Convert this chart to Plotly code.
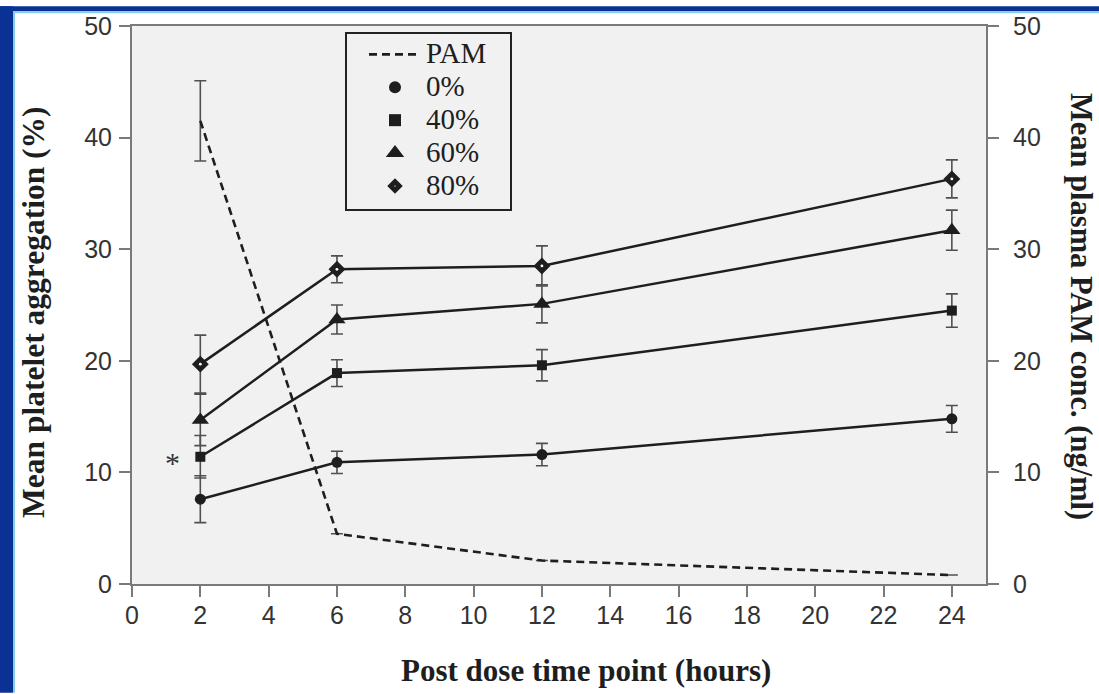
import plotly.graph_objects as go

# ---- data ----
time_h = [2, 6, 12, 24]
agg_0 = [7.6, 10.9, 11.6, 14.8]
err_0 = [2.1, 1.0, 1.0, 1.2]
agg_40 = [11.4, 18.9, 19.6, 24.5]
err_40 = [1.9, 1.2, 1.4, 1.5]
agg_60 = [14.7, 23.7, 25.1, 31.7]
err_60 = [2.3, 1.3, 1.7, 1.8]
agg_80 = [19.7, 28.2, 28.5, 36.3]
err_80 = [2.6, 1.2, 1.8, 1.7]
pam_conc = [41.5, 4.5, 2.1, 0.8]
err_pam = [3.6, 0, 0, 0]

x_ticks = list(range(0, 25, 2))
y_ticks = [0, 10, 20, 30, 40, 50]
legend_names = ["PAM", "0%", "40%", "60%", "80%"]

# ---- layout geometry ----
W, H = 1099, 694
ML, MR, MT, MB = 132, 113, 20, 110
PW, PH = W - ML - MR, H - MT - MB


def px(xp):
    return (xp - ML) / PW


def py(yp):
    return (H - MB - yp) / PH


INK = "#1e1e1e"
AXC = "#7a7a7a"
ERRC = "#505050"
SERIF = "Liberation Serif, Times New Roman, serif"
SANS = "Liberation Sans, Arial, sans-serif"


def lname(s):
    return '<span style="font-size:29px">' + s + '</span>'


fig = go.Figure()

# PAM concentration (right axis)
fig.add_trace(go.Scatter(
    x=time_h, y=pam_conc, yaxis="y2", mode="lines", name=lname(legend_names[0]),
    line=dict(color=INK, width=2.6, dash="8px,5px"),
    error_y=dict(type="data", array=err_pam, visible=True, color=ERRC,
                 thickness=1.6, width=6),
    showlegend=True,
))

series = [
    (agg_0, err_0, "circle", 11, legend_names[1]),
    (agg_40, err_40, "square", 10, legend_names[2]),
    (agg_60, err_60, "triangle-up", 15, legend_names[3]),
    (agg_80, err_80, "diamond", 13, legend_names[4]),
]
for vals, errs, sym, size, name in series:
    fig.add_trace(go.Scatter(
        x=time_h, y=vals, mode="lines+markers", name=name,
        line=dict(color=INK, width=2.5),
        marker=dict(symbol=sym, size=size, color=INK, line=dict(width=0)),
        error_y=dict(type="data", array=errs, visible=True, color=ERRC,
                     thickness=1.6, width=6),
        showlegend=False,
    ))

# white centre dot of the 80% diamonds
fig.add_trace(go.Scatter(
    x=time_h, y=agg_80, mode="markers", showlegend=False, hoverinfo="skip",
    marker=dict(symbol="circle", size=2.8, color="#ffffff", line=dict(width=0)),
))

# legend-only entries (marker symbols)
legend_markers = [
    dict(symbol="circle", size=12, color=INK, line=dict(width=0)),
    dict(symbol="square", size=12, color=INK, line=dict(width=0)),
    dict(symbol="triangle-up", size=16, color=INK, line=dict(width=0)),
    dict(symbol="diamond", size=6.5, color="#ffffff", line=dict(color=INK, width=5)),
]
for mk, name in zip(legend_markers, legend_names[1:]):
    fig.add_trace(go.Scatter(
        x=[None], y=[None], mode="markers", name=lname(name),
        marker=mk, showlegend=True,
    ))

axis_common = dict(
    showgrid=False, zeroline=False, showline=True, linecolor=AXC, linewidth=2,
    ticks="outside", ticklen=11, tickwidth=2, tickcolor=AXC,
    tickfont=dict(family=SANS, size=25, color="#333333"),
)

fig.update_layout(
    width=W, height=H,
    margin=dict(l=ML, r=MR, t=MT, b=MB),
    paper_bgcolor="#ffffff",
    plot_bgcolor="#f1f1f1",
    xaxis=dict(range=[0, 25], tickvals=x_ticks, mirror=True,
               ticklabelstandoff=-3, **axis_common),
    yaxis=dict(range=[0, 50], tickvals=y_ticks, ticklabelstandoff=2,
               **axis_common),
    yaxis2=dict(range=[0, 50], tickvals=y_ticks, overlaying="y", side="right",
                ticklabelstandoff=9, **axis_common),
    legend=dict(x=px(364), y=py(27), xanchor="left", yanchor="top",
                bgcolor="rgba(0,0,0,0)", borderwidth=0,
                font=dict(family=SERIF, size=23, color=INK),
                itemwidth=52, tracegroupgap=0),
    showlegend=True,
)

shapes = [
    # legend frame
    dict(type="rect", xref="paper", yref="paper",
         x0=px(346), x1=px(511), y0=py(206), y1=py(27),
         line=dict(color="#222222", width=2), fillcolor="rgba(0,0,0,0)", layer="above"),
    # blue frame of the slide (left and top)
    dict(type="rect", xref="paper", yref="paper",
         x0=px(0), x1=px(13), y0=py(H), y1=py(0),
         line=dict(width=0), fillcolor="#0a3194", layer="above"),
    dict(type="rect", xref="paper", yref="paper",
         x0=px(0), x1=px(W), y0=py(5), y1=py(0),
         line=dict(width=0), fillcolor="#0a3194", layer="above"),
    dict(type="line", xref="paper", yref="paper",
         x0=px(14), x1=px(14), y0=py(H), y1=py(5),
         line=dict(color="#86cdea", width=2), layer="above"),
    dict(type="line", xref="paper", yref="paper",
         x0=px(13), x1=px(W), y0=py(6), y1=py(6),
         line=dict(color="#86cdea", width=2), layer="above"),
]
fig.update_layout(shapes=shapes)

annotations = [
    dict(text="<b>Post dose time point (hours)</b>", xref="paper", yref="paper",
         x=px(586), y=py(671), xanchor="center", yanchor="middle", showarrow=False,
         font=dict(family=SERIF, size=31, color=INK)),
    dict(text="<b>Mean platelet aggregation (%)</b>", xref="paper", yref="paper",
         x=px(34), y=py(310), xanchor="center", yanchor="middle", showarrow=False,
         textangle=-90, font=dict(family=SERIF, size=31.5, color=INK)),
    dict(text="<b>Mean plasma PAM conc. (ng/ml)</b>", xref="paper", yref="paper",
         x=px(1081), y=py(303), xanchor="center", yanchor="middle", showarrow=False,
         textangle=90, font=dict(family=SERIF, size=30.5, color=INK)),
    dict(text="*", xref="x", yref="y", x=1.18, y=10.9, showarrow=False,
         xanchor="center", yanchor="middle",
         font=dict(family=SERIF, size=30, color="#333333")),
]
fig.update_layout(annotations=annotations)

post = ("document.body.style.margin='0';"
        "var d=document.getElementById('{plot_id}');"
        "d.style.position='absolute';d.style.left='0px';d.style.top='0px';")
fig.write_html("out.html", post_script=post, config={"displayModeBar": False})
